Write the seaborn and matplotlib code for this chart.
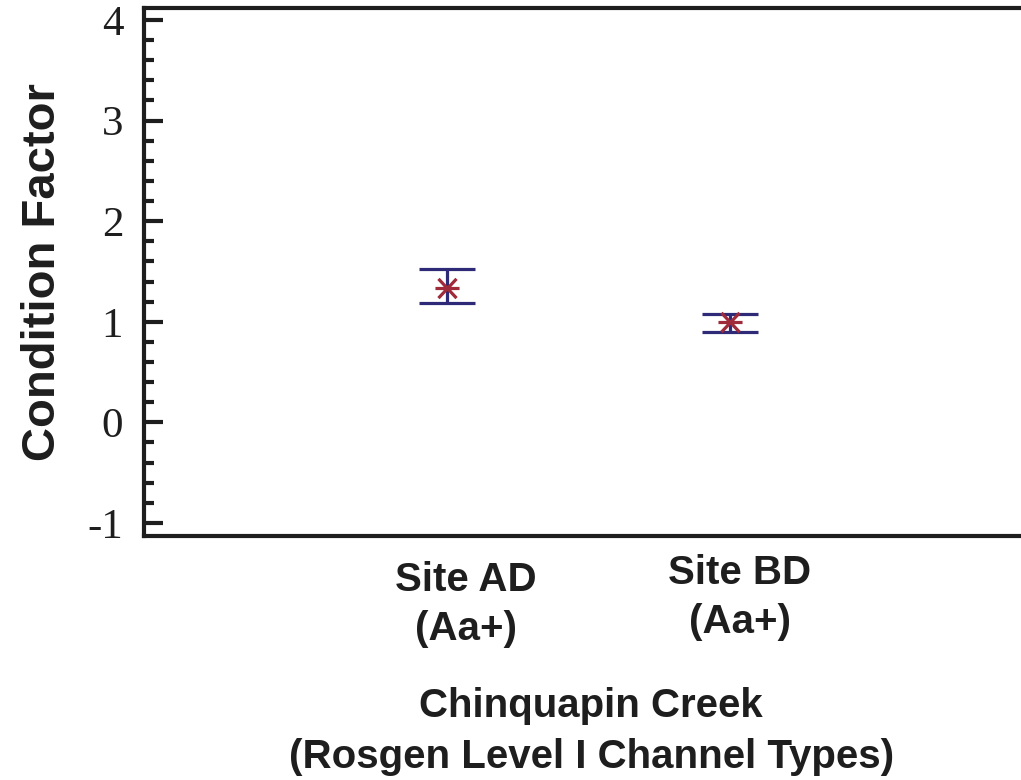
import numpy as np
import pandas as pd
import matplotlib
matplotlib.use("Agg")
import matplotlib.pyplot as plt
import matplotlib.transforms as mtransforms
from matplotlib.path import Path
import seaborn as sns
from matplotlib.ticker import MultipleLocator

# values
sites = ["Site AD\n(Aa+)", "Site BD\n(Aa+)"]
means = [1.34, 1.00]
lower = [1.19, 0.90]
upper = [1.52, 1.08]

df = pd.DataFrame({"site": sites, "mean": means, "lo": lower, "hi": upper})

sns.set_style("ticks")
plt.rcParams["axes.unicode_minus"] = False
plt.rcParams["text.color"] = "#1e1e1e"
plt.rcParams["xtick.color"] = "#1e1e1e"
plt.rcParams["ytick.color"] = "#1e1e1e"
plt.rcParams["axes.labelcolor"] = "#1e1e1e"

fig = plt.figure(figsize=(10.21, 7.80), dpi=100)
ax = fig.add_axes([0.141, 0.3128, 0.859, 0.677])

navy = "#2e2a78"
red = "#9e2a3a"

# asterisk: horizontal bar plus an X
star = Path([(-1, 0), (1, 0), (-0.75, -0.8), (0.75, 0.8), (-0.75, 0.8), (0.75, -0.8)],
            [Path.MOVETO, Path.LINETO, Path.MOVETO, Path.LINETO, Path.MOVETO, Path.LINETO])

x = np.arange(len(df))
ax.errorbar(x, df["mean"], yerr=[df["mean"] - df["lo"], df["hi"] - df["mean"]],
            fmt="none", ecolor=navy, elinewidth=2.3, capsize=20, capthick=2.3, zorder=2)
sns.scatterplot(data=df, x="site", y="mean", marker=star, s=300,
                color=red, linewidth=2.3, edgecolor=red, ax=ax, zorder=3, legend=False)

ax.set_xlim(-1.07, 2.03)
ax.set_ylim(-1.13, 4.12)
ax.yaxis.set_major_locator(MultipleLocator(1))
ax.yaxis.set_minor_locator(MultipleLocator(0.2))
ax.set_xticks(x)
ax.set_xticklabels(df["site"], fontsize=29, fontweight="bold",
                   family="Liberation Sans", linespacing=1.35)
ax.tick_params(axis="x", length=0, pad=18)
ax.tick_params(axis="y", which="major", direction="in", length=14, width=3,
               labelsize=31, pad=15)
ax.tick_params(axis="y", which="minor", direction="in", length=7, width=3)
for lab in ax.get_yticklabels():
    lab.set_family("Liberation Serif")

# tick labels sit a little right of the markers, the second one a bit higher
labs = ax.get_xticklabels()
shifts = [(19, 0), (10, 7)]
for lab, (dx, dy) in zip(labs, shifts):
    off = mtransforms.ScaledTranslation(dx / 100, dy / 100, fig.dpi_scale_trans)
    lab.set_transform(lab.get_transform() + off)

ax.set_ylabel("Condition Factor", fontsize=34, fontweight="bold",
              family="Liberation Sans", labelpad=16)
ax.set_xlabel("Chinquapin Creek\n(Rosgen Level I Channel Types)", fontsize=29,
              fontweight="bold", family="Liberation Sans", linespacing=1.45)
ax.xaxis.set_label_coords(0.51, -0.285)

for side in ["left", "bottom", "top"]:
    ax.spines[side].set_linewidth(3)
    ax.spines[side].set_color("#1e1e1e")
ax.spines["right"].set_visible(False)

fig.savefig("out.png", dpi=100)
